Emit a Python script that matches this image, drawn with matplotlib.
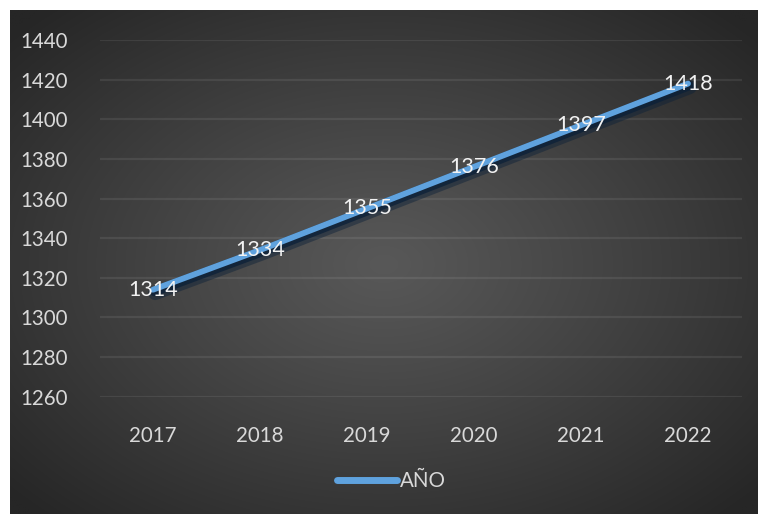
import numpy as np
import matplotlib
matplotlib.use("Agg")
import matplotlib.pyplot as plt
import matplotlib.patheffects as pe

plt.rcParams['font.family'] = ['Lato', 'DejaVu Sans']

years = ["2017", "2018", "2019", "2020", "2021", "2022"]
values = [1314, 1334, 1355, 1376, 1397, 1418]
series_name = "AÑO"
y_ticks = [1260, 1280, 1300, 1320, 1340, 1360, 1380, 1400, 1420, 1440]

W, H, DPI = 758, 514, 100
fig = plt.figure(figsize=(W / DPI, H / DPI), dpi=DPI, facecolor="white")

# dark panel with a soft radial gradient
x0, y0, x1, y1 = 10, 10, 758, 520
bg = fig.add_axes([x0 / W, 1 - y1 / H, (x1 - x0) / W, (y1 - y0) / H])
gx, gy = np.meshgrid(np.linspace(-1, 1, 400), np.linspace(-1, 1, 300))
r = np.clip(np.sqrt(gx ** 2 + gy ** 2) / 1.35, 0, 1)
inner, outer = 0x58 / 255, 0x26 / 255
shade = inner + (outer - inner) * r ** 1.1
bg.imshow(np.dstack([shade, shade, shade]), aspect="auto", extent=[0, 1, 0, 1],
          interpolation="bilinear")
bg.set_axis_off()

# plot area
left, right = 99.5, 741.5
top, bottom = 40, 396.7
ax = fig.add_axes([left / W, 1 - bottom / H, (right - left) / W, (bottom - top) / H])
ax.patch.set_alpha(0)
xs = np.arange(len(years))
ax.set_xlim(-0.5, len(years) - 0.5)
ax.set_ylim(1260, 1440)
ax.set_yticks(y_ticks)
ax.set_xticks(xs)
ax.set_xticklabels(years)
for s in ax.spines.values():
    s.set_visible(False)
ax.grid(axis="y", color="white", alpha=0.08, linewidth=1.6)
ax.tick_params(axis="both", length=0, colors="#d9d9d9", labelsize=14.8)
ax.tick_params(axis="y", pad=23)
ax.tick_params(axis="x", pad=21)
ax.set_axisbelow(True)

line, = ax.plot(xs, values, color="#5FA2DE", linewidth=4.2, solid_capstyle="round",
                label=series_name,
                path_effects=[pe.SimpleLineShadow(offset=(1.5, -2.5), shadow_color="#0b2038",
                                                  alpha=0.45, linewidth=10),
                              pe.SimpleLineShadow(offset=(1.0, -1.5), shadow_color="#0b2038",
                                                  alpha=0.75, linewidth=6.5),
                              pe.Normal()])

for xv, v in zip(xs, values):
    ax.text(xv, v, str(v), ha="center", va="center", color="#f2f2f2", fontsize=15.5)

leg = fig.legend(handles=[line], loc="center", bbox_to_anchor=(372 / W + 0.026, 1 - 481 / H),
                 frameon=False, fontsize=14.8, labelcolor="#d9d9d9", handlelength=2.9,
                 handletextpad=0.15)
for h in leg.legend_handles:
    h.set_path_effects([])
    h.set_linewidth(5)

fig.savefig("out.png", dpi=DPI, facecolor="white")
